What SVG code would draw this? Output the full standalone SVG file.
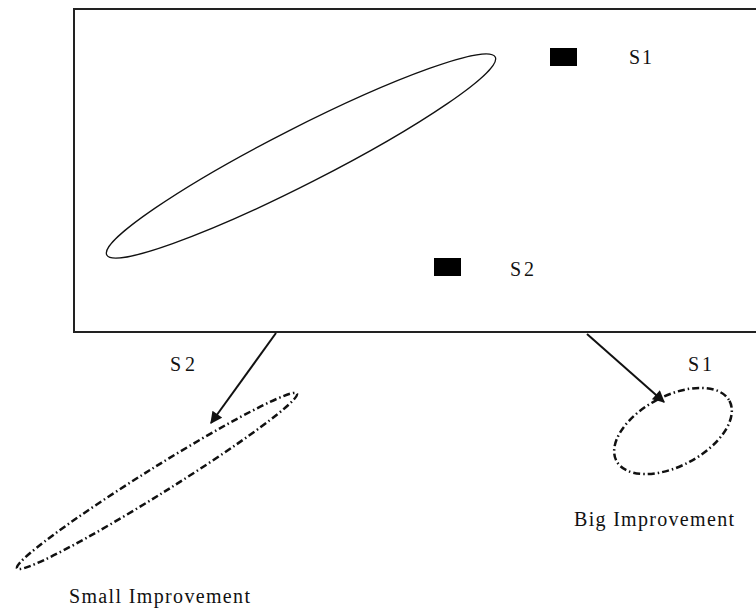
<svg xmlns="http://www.w3.org/2000/svg" width="756" height="608" viewBox="0 0 756 608">
<defs>
<style>
text{font-family:"Liberation Serif","Times New Roman",serif;font-size:20px;fill:#111}
.dash{fill:none;stroke:#111;stroke-width:2.5;stroke-dasharray:7 3 1.5 3}
</style>
<marker id="ah" viewBox="0 0 10 10" refX="9" refY="5" markerWidth="7" markerHeight="6" orient="auto" markerUnits="strokeWidth">
<path d="M0,0 L10,5 L0,10 z" fill="#111"/>
</marker>
</defs>
<rect width="756" height="608" fill="#fff"/>
<g id="frame">
<rect x="74" y="9" width="700" height="323" fill="none" stroke="#222" stroke-width="2"/>
</g>
<g id="cluster">
<ellipse cx="301" cy="156" rx="218" ry="28" transform="rotate(-27 301 156)" fill="none" stroke="#111" stroke-width="1.3"/>
</g>
<g id="s1-marker">
<rect x="550" y="48" width="27" height="18" fill="#000"/>
<text x="629" y="64" textLength="23">S1</text>
</g>
<g id="s2-marker">
<rect x="434" y="258" width="27" height="18" fill="#000"/>
<text x="510" y="276" textLength="24">S2</text>
</g>
<g id="small">
<ellipse cx="157" cy="481" rx="165" ry="13" transform="rotate(-32 157 481)" class="dash"/>
<text x="69" y="603" textLength="181">Small Improvement</text>
</g>
<g id="big">
<ellipse cx="673" cy="431" rx="64" ry="35" transform="rotate(-28 673 431)" class="dash"/>
<text x="574" y="526" textLength="160">Big Improvement</text>
</g>
<g id="connectors">
<line x1="276" y1="333" x2="211" y2="423" stroke="#111" stroke-width="2" marker-end="url(#ah)"/>
<line x1="587" y1="334" x2="664" y2="402" stroke="#111" stroke-width="2" marker-end="url(#ah)"/>
<text x="170" y="371" textLength="25">S2</text>
<text x="688" y="371" textLength="24">S1</text>
</g>
</svg>
